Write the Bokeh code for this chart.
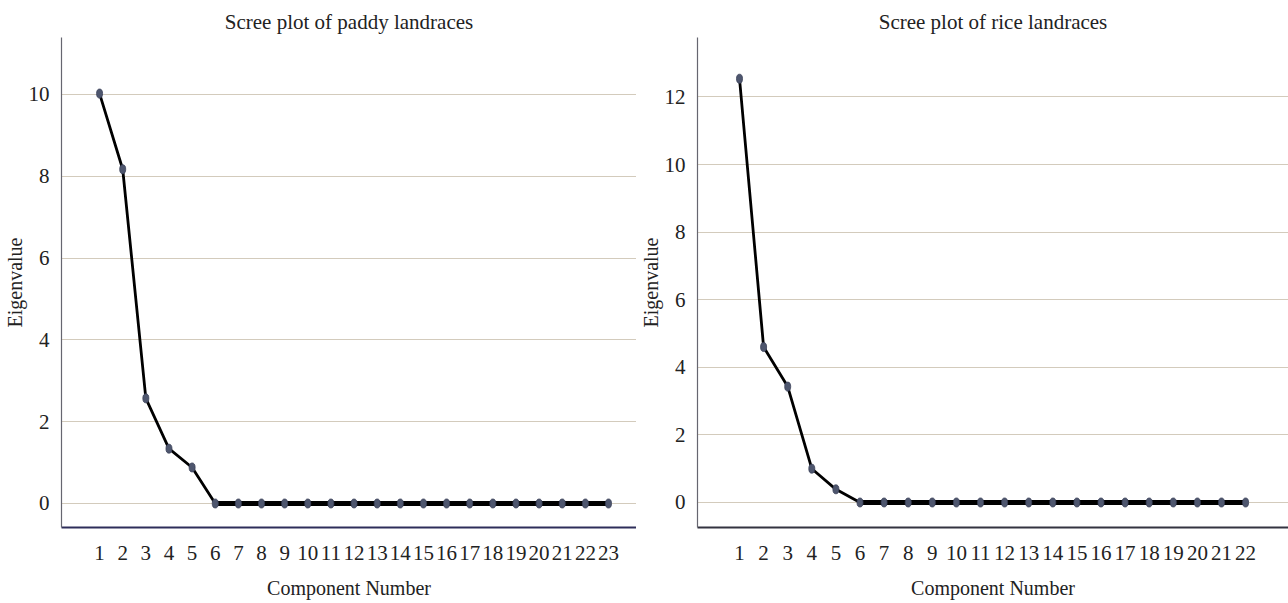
from bokeh.plotting import figure
from bokeh.layouts import row
from bokeh.models import FixedTicker, Range1d, ColumnDataSource
from bokeh.embed import file_html
from bokeh.resources import INLINE

# Data
paddy_components = list(range(1, 24))
paddy_eigen = [10.02, 8.17, 2.57, 1.34, 0.88] + [0.0] * 18
rice_components = list(range(1, 23))
rice_eigen = [12.54, 4.6, 3.43, 1.0, 0.39] + [0.0] * 17

titles = ["Scree plot of paddy landraces", "Scree plot of rice landraces"]
y_ticks_left = [0, 2, 4, 6, 8, 10]
y_ticks_right = [0, 2, 4, 6, 8, 10, 12]

FONT = "Liberation Serif"


def make_panel(comps, eig, title, yticks, width, border_left, xr, yr, bottom_color):
    p = figure(width=width, height=603, output_backend="svg", toolbar_location=None,
               x_range=Range1d(*xr), y_range=Range1d(*yr),
               min_border_left=border_left, min_border_right=0,
               min_border_top=37, min_border_bottom=76)
    p.title.text = title
    p.title.align = "center"
    p.title.text_font = FONT
    p.title.text_font_size = "21px"
    p.title.text_font_style = "normal"
    p.title.text_color = "#222222"
    p.title.standoff = 8
    p.outline_line_color = None
    p.xgrid.visible = False
    p.ygrid.grid_line_color = "#d3cbbc"
    p.ygrid.grid_line_width = 1.2
    p.ygrid.ticker = FixedTicker(ticks=yticks)

    p.xaxis.ticker = FixedTicker(ticks=comps)
    p.yaxis.ticker = FixedTicker(ticks=yticks)
    for ax in (p.xaxis, p.yaxis):
        ax.major_tick_line_color = None
        ax.minor_tick_line_color = None
        ax.major_label_text_font = FONT
        ax.major_label_text_font_size = "21px"
        ax.major_label_text_color = "#222222"
        ax.axis_label_text_font = FONT
        ax.axis_label_text_font_size = "20px"
        ax.axis_label_text_font_style = "normal"
        ax.axis_label_text_color = "#222222"
    p.xaxis.axis_label = "Component Number"
    p.yaxis.axis_label = "Eigenvalue"
    p.xaxis.major_label_standoff = 12
    p.xaxis.axis_label_standoff = 14
    p.yaxis.major_label_standoff = 6
    p.yaxis.axis_label_standoff = 0
    p.yaxis.axis_line_color = "#666670"
    p.yaxis.axis_line_width = 1.2
    p.xaxis.axis_line_color = bottom_color
    p.xaxis.axis_line_width = 1.8

    src = ColumnDataSource(dict(x=comps, y=eig))
    flat = ColumnDataSource(dict(x=comps[5:], y=eig[5:]))
    p.line("x", "y", source=src, line_color="#000000", line_width=2.8)
    p.line("x", "y", source=flat, line_color="#000000", line_width=5)
    p.ellipse("x", "y", source=src, width=6, height=9, width_units="screen",
              height_units="screen", fill_color="#4e566e", line_color="#3a4058",
              line_width=0.8)
    return p


left = make_panel(paddy_components, paddy_eigen, titles[0], y_ticks_left, 636, 59,
                  (-0.646, 24.21), (-0.587, 11.39), "#2e2e5a")
right = make_panel(rice_components, rice_eigen, titles[1], y_ticks_right, 652, 57,
                   (-0.743, 23.78), (-0.74, 13.76), "#333340")

layout = row(left, right)
open("out.html", "w").write(file_html(layout, INLINE))
